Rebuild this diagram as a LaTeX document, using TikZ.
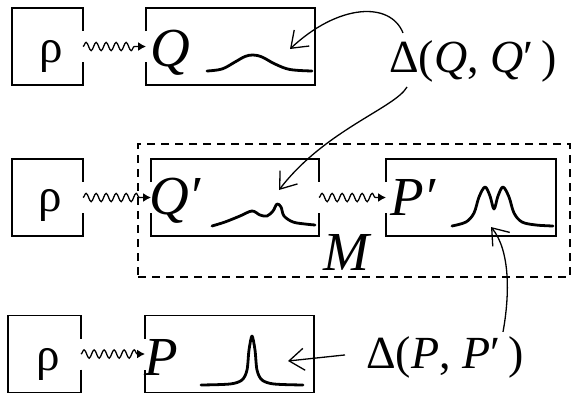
\documentclass[tikz,border=0pt]{standalone}
\usepackage{fontspec}
\setmainfont{Liberation Serif}
\newfontfamily\tnr{Liberation Serif}
\usetikzlibrary{arrows.meta,decorations.pathmorphing,calc}
\begin{document}
\begin{tikzpicture}[x=1pt,y=-1pt,
  frame/.style={draw=none, inner sep=0pt, outer sep=0pt},
  boxline/.style={line width=1.2pt},
  squig/.style={line width=1.3pt, -{Latex[length=8pt,width=9pt]}, decorate,
    decoration={snake, amplitude=4.2pt, segment length=10pt, post length=7pt}},
  big/.style={inner sep=0pt, anchor=base west, font=\tnr\fontsize{55}{55}\selectfont\itshape},
  rhotext/.style={inner sep=0pt, anchor=base, font=\tnr\fontsize{47}{47}\selectfont},
  lab/.style={inner sep=0pt, anchor=base west, font=\tnr\fontsize{46}{46}\selectfont},
  pointer/.style={line width=1.3pt, -{Straight Barb[length=15pt,width=22pt,line width=1.3pt]}},
  dist/.style={line width=2.8pt, line cap=round, line join=round},
  mbox/.style={draw, line width=1.3pt, dash pattern=on 8pt off 6pt, inner sep=0pt}]
\useasboundingbox (0,0) rectangle (573,394);

% dashed box M
\node[mbox, minimum width=432pt, minimum height=133pt] (mb) at (354,210.5) {};
\node[big] (mlab) at (323,270) {M};

% frames
\node[frame, minimum width=71pt, minimum height=77pt] (r1) at (47.5,46.5) {};
\node[frame, minimum width=169pt, minimum height=77pt] (q1) at (230.5,46.5) {};
\node[frame, minimum width=71pt, minimum height=77pt] (r2) at (47.5,197.5) {};
\node[frame, minimum width=168pt, minimum height=77pt] (q2) at (235,197.5) {};
\node[frame, minimum width=170pt, minimum height=77pt] (p2) at (471,197.5) {};
\node[frame, minimum width=73pt, minimum height=77pt] (r3) at (44.5,354) {};
\node[frame, minimum width=169pt, minimum height=77pt] (p3) at (229.5,354) {};

% frame outlines with gaps
\draw[boxline] ($(r1.east)+(0,15.5)$) -- (r1.south east) -- (r1.south west) -- (r1.north west) -- (r1.north east) -- ($(r1.east)+(0,-15.5)$);
\draw[boxline] ($(r2.east)+(0,15.5)$) -- (r2.south east) -- (r2.south west) -- (r2.north west) -- (r2.north east) -- ($(r2.east)+(0,-15.5)$);
\draw[boxline] ($(r3.east)+(0,15.5)$) -- (r3.south east) -- (r3.south west) -- (r3.north west) -- (r3.north east) -- ($(r3.east)+(0,-15.5)$);
\draw[boxline] ($(q1.west)+(0,-15.5)$) -- (q1.north west) -- (q1.north east) -- (q1.south east) -- (q1.south west) -- ($(q1.west)+(0,15.5)$);
\draw[boxline] ($(p2.west)+(0,-15.5)$) -- (p2.north west) -- (p2.north east) -- (p2.south east) -- (p2.south west) -- ($(p2.west)+(0,15.5)$);
\draw[boxline] ($(p3.west)+(0,-15.5)$) -- (p3.north west) -- (p3.north east) -- (p3.south east) -- (p3.south west) -- ($(p3.west)+(0,15.5)$);
\draw[boxline] ($(q2.west)+(0,-15.5)$) -- (q2.north west) -- (q2.north east) -- ($(q2.east)+(0,-15.5)$);
\draw[boxline] ($(q2.west)+(0,15.5)$) -- (q2.south west) -- (q2.south east) -- ($(q2.east)+(0,15.5)$);

% texts in frames
\node[rhotext] (t1) at (51.5,62) {ρ};
\node[rhotext] (t2) at (50,211) {ρ};
\node[rhotext] (t3) at (48.5,370) {ρ};
\node[big] (tq1) at (150,66) {Q};
\node[big] (tq2) at (149,214) {Q′};
\node[big] (tp2) at (390,215) {P′};
\node[big] (tp3) at (144,375) {P};

% distributions
\draw[dist] plot[smooth, tension=0.6] coordinates {(207,71) (222,69) (235,62) (245,56.5) (253,55) (262,57) (275,64) (290,69.5) (312,71)};
\draw[dist] plot[smooth, tension=0.55] coordinates {(212,226) (225,222) (240,216) (252,211) (260,215) (267,216) (273,211) (277,204) (281,207) (284,216) (293,222) (305,224) (315,225)};
\draw[dist] plot[smooth, tension=0.55] coordinates {(452,226) (466,222) (474,213) (479,197) (485,187) (490,196) (494,209) (498,196) (503,187) (509,197) (514,213) (522,222) (536,225) (553,226)};
\draw[dist] plot[smooth, tension=0.5] coordinates {(201,385) (230,384) (242,380) (247,370) (249,350) (252,336) (255,350) (257,370) (262,380) (274,384) (303,385)};

% squiggle connectors
\draw[squig] (r1.east) -- (q1.west);
\draw[squig] (r2.east) -- (q2.west);
\draw[squig] (q2.east) -- (p2.west);
\draw[squig] (r3.east) -- (p3.west);

% labels
\node[lab] (dq) at (389,72) {Δ(\textit{Q}, \textit{Q}′\,)};
\node[lab] (dp) at (366,368) {Δ(\textit{P}, \textit{P}′\,)};

% pointers
\draw[pointer] ($(dq.north west)+(14,-7)$) .. controls +(-13,-32) and +(48,-45) .. ($(q1.center)+(59.5,2.5)$);
\draw[pointer] ($(dq.south west)+(18,5)$) .. controls +(-12,21) and +(46,-60) .. ($(q2.center)+(44,-7.5)$);
\draw[pointer] ($(dp.north west)+(137,-4)$) .. controls +(7,-38) and +(19,23) .. ($(p2.center)+(20,29.5)$);
\draw[pointer] ($(dp.west)+(-21,-2)$) -- ($(p3.center)+(58.5,7)$);
\end{tikzpicture}
\end{document}
